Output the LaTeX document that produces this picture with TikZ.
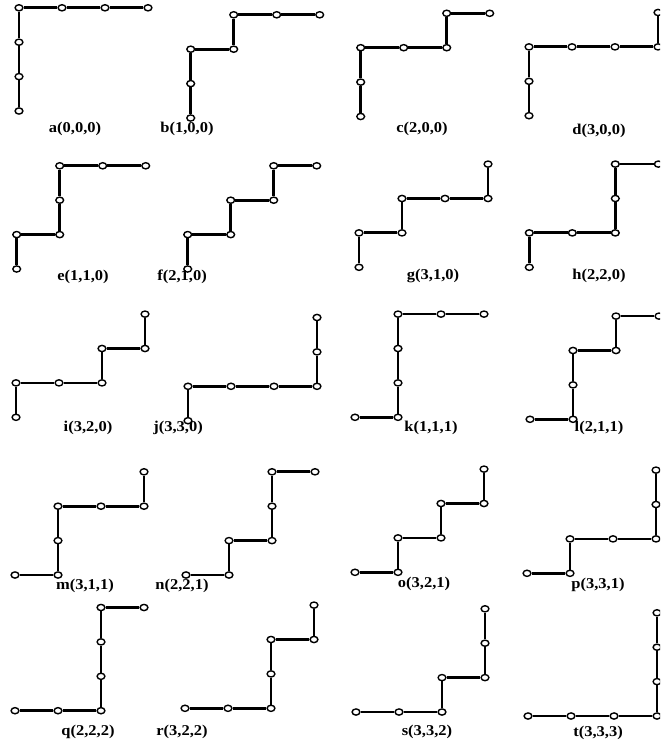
\documentclass[tikz,border=0pt]{standalone}
\usepackage{fontspec}
\setmainfont{Liberation Serif}
\usepackage{tikz}
\usetikzlibrary{shapes.geometric}

\tikzset{
  vtx/.style={ellipse,draw,fill=white,line width=0.7pt,inner sep=0pt,minimum width=3.9pt,minimum height=3.1pt},
  seg/.style={line width=1.4pt},
  lbl/.style={font=\bfseries\fontsize{7.5}{9}\selectfont,inner sep=0pt}
}

\begin{document}
\begin{tikzpicture}[x=0.5pt,y=-0.5pt]
  \useasboundingbox (0,0) rectangle (660,742);
  \clip (0,0) rectangle (660,742);
  \foreach \nm/\ox/\oy/\pts in {
    a/19/111/{0/0,0/1,0/2,0/3,1/3,2/3,3/3},
    b/190.7/118/{0/0,0/1,0/2,1/2,1/3,2/3,3/3},
    c/360.7/116.5/{0/0,0/1,0/2,1/2,2/2,2/3,3/3},
    d/529/115.7/{0/0,0/1,0/2,1/2,2/2,3/2,3/3},
    e/16.7/269/{0/0,0/1,1/1,1/2,1/3,2/3,3/3},
    f/187.7/269/{0/0,0/1,1/1,1/2,2/2,2/3,3/3},
    g/359/267.3/{0/0,0/1,1/1,1/2,2/2,3/2,3/3},
    h/529.3/267.3/{0/0,0/1,1/1,2/1,2/2,2/3,3/3},
    i/16/417.3/{0/0,0/1,1/1,2/1,2/2,3/2,3/3},
    j/188/420.7/{0/0,0/1,1/1,2/1,3/1,3/2,3/3},
    k/355/417.3/{0/0,1/0,1/1,1/2,1/3,2/3,3/3},
    l/530/419.3/{0/0,1/0,1/1,1/2,2/2,2/3,3/3},
    m/15/575/{0/0,1/0,1/1,1/2,2/2,3/2,3/3},
    n/186/575/{0/0,1/0,1/1,2/1,2/2,2/3,3/3},
    o/355/572.3/{0/0,1/0,1/1,2/1,2/2,3/2,3/3},
    p/527/573.3/{0/0,1/0,1/1,2/1,3/1,3/2,3/3},
    q/15/710.7/{0/0,1/0,2/0,2/1,2/2,2/3,3/3},
    r/185/708.3/{0/0,1/0,2/0,2/1,2/2,3/2,3/3},
    s/356/712/{0/0,1/0,2/0,2/1,3/1,3/2,3/3},
    t/528/716/{0/0,1/0,2/0,3/0,3/1,3/2,3/3}}{
    \foreach \px/\py [count=\k] in \pts
      \node[vtx] (\nm\k) at ({\ox+43*\px},{\oy-34.4*\py}) {};
    \foreach \k [remember=\k as \j (initially 1)] in {2,...,7}
      \draw[seg] (\nm\j) -- (\nm\k);
  }
  \foreach \nm/\lx/\ly/\txt in {
    a/75/129/{a(0,0,0)}, b/187/129/{b(1,0,0)}, c/422/129/{c(2,0,0)}, d/599/131/{d(3,0,0)},
    e/83/277/{e(1,1,0)}, f/182/277/{f(2,1,0)}, g/433/276/{g(3,1,0)}, h/599/276/{h(2,2,0)},
    i/88/428/{i(3,2,0)}, j/178/428/{j(3,3,0)}, k/431/428/{k(1,1,1)}, l/599/428/{l(2,1,1)},
    m/85/586/{m(3,1,1)}, n/182/586/{n(2,2,1)}, o/424/584/{o(3,2,1)}, p/598/585/{p(3,3,1)},
    q/88/732/{q(2,2,2)}, r/182/732/{r(3,2,2)}, s/427/732/{s(3,3,2)}, t/598/733/{t(3,3,3)}}
    \node[lbl] (\nm-lbl) at (\lx,\ly) {\scalebox{1.1}[1]{\txt}};
\end{tikzpicture}
\end{document}
